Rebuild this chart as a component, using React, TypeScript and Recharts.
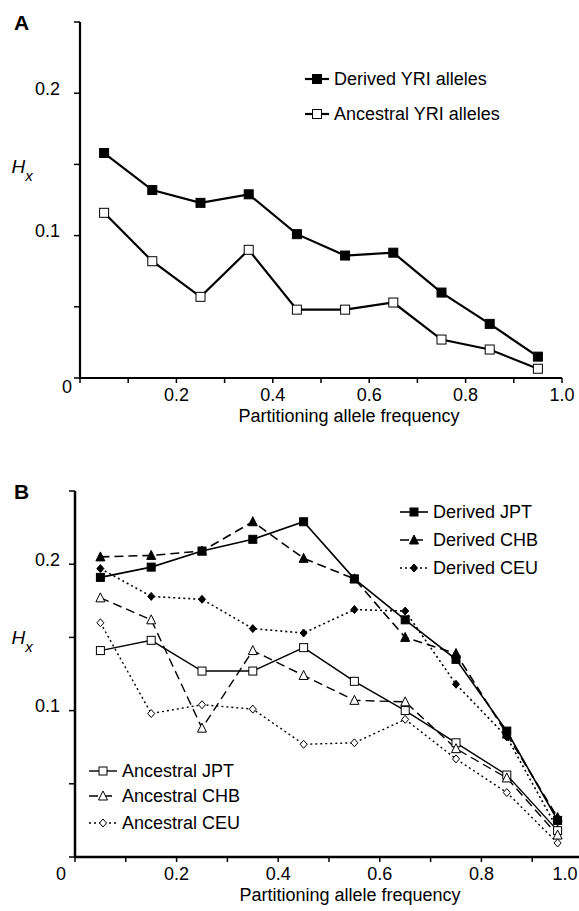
import React from "react";
import { LineChart, Line, XAxis, YAxis, Legend, Label } from "recharts";

// partitioning allele frequency bins (bin centres)
const freqBins = [0.05, 0.15, 0.25, 0.35, 0.45, 0.55, 0.65, 0.75, 0.85, 0.95];

// panel A
const derivedYRI = [0.158, 0.132, 0.123, 0.129, 0.101, 0.086, 0.088, 0.06, 0.038, 0.015];
const ancestralYRI = [0.116, 0.082, 0.057, 0.09, 0.048, 0.048, 0.053, 0.027, 0.02, 0.0065];

// panel B
const derivedJPT = [0.191, 0.198, 0.209, 0.217, 0.229, 0.19, 0.162, 0.135, 0.086, 0.025];
const derivedCHB = [0.205, 0.206, 0.209, 0.229, 0.204, 0.19, 0.15, 0.139, 0.084, 0.027];
const derivedCEU = [0.197, 0.178, 0.176, 0.156, 0.153, 0.169, 0.168, 0.118, 0.082, 0.019];
const ancestralJPT = [0.141, 0.148, 0.127, 0.127, 0.143, 0.12, 0.1, 0.078, 0.056, 0.018];
const ancestralCHB = [0.177, 0.162, 0.088, 0.141, 0.124, 0.107, 0.106, 0.074, 0.054, 0.015];
const ancestralCEU = [0.16, 0.098, 0.104, 0.101, 0.077, 0.078, 0.094, 0.067, 0.044, 0.0096];

const xTicks = [0, 0.1, 0.2, 0.3, 0.4, 0.5, 0.6, 0.7, 0.8, 0.9, 1];
const xTickLabels = ["0", "", "0.2", "", "0.4", "", "0.6", "", "0.8", "", "1.0"];
const yTicks = [0, 0.05, 0.1, 0.15, 0.2, 0.25];
const yTickLabels = ["", "", "0.1", "", "0.2", ""];

const FONT = '"Liberation Sans", Arial, sans-serif';

type Shape = "square" | "triangle" | "diamond";
interface Series {
  key: string;
  name: string;
  values: number[];
  shape: Shape;
  filled: boolean;
  size: number;
  dash?: string;
  width: number;
}

const seriesA: Series[] = [
  { key: "dYRI", name: "Derived YRI alleles", values: derivedYRI, shape: "square", filled: true, size: 9, width: 2.2 },
  { key: "aYRI", name: "Ancestral YRI alleles", values: ancestralYRI, shape: "square", filled: false, size: 9, width: 2.2 },
];

const seriesB: Series[] = [
  { key: "dJPT", name: "Derived JPT", values: derivedJPT, shape: "square", filled: true, size: 8, width: 1.6 },
  { key: "dCHB", name: "Derived CHB", values: derivedCHB, shape: "triangle", filled: true, size: 8, dash: "9 5", width: 1.6 },
  { key: "dCEU", name: "Derived CEU", values: derivedCEU, shape: "diamond", filled: true, size: 8, dash: "2 3", width: 1.6 },
  { key: "aJPT", name: "Ancestral JPT", values: ancestralJPT, shape: "square", filled: false, size: 8, width: 1.4 },
  { key: "aCHB", name: "Ancestral CHB", values: ancestralCHB, shape: "triangle", filled: false, size: 8, dash: "9 5", width: 1.4 },
  { key: "aCEU", name: "Ancestral CEU", values: ancestralCEU, shape: "diamond", filled: false, size: 8, dash: "2 3", width: 1.4 },
];

const buildRows = (series: Series[]) =>
  freqBins.map((f, i) => {
    const row: Record<string, number> = { f };
    series.forEach((s) => (row[s.key] = s.values[i]));
    return row;
  });

const Marker = ({ cx, cy, s }: { cx: number; cy: number; s: Series }) => {
  const fill = s.filled ? "#000" : "#fff";
  const h = s.size / 2;
  if (s.shape === "square")
    return <rect x={cx - h} y={cy - h} width={s.size} height={s.size} fill={fill} stroke="#000" strokeWidth={1} />;
  if (s.shape === "triangle")
    return (
      <polygon
        points={`${cx},${cy - h - 1} ${cx + h + 0.5},${cy + h} ${cx - h - 0.5},${cy + h}`}
        fill={fill}
        stroke="#000"
        strokeWidth={1}
      />
    );
  return (
    <polygon
      points={`${cx},${cy - h} ${cx + h - 0.5},${cy} ${cx},${cy + h} ${cx - h + 0.5},${cy}`}
      fill={fill}
      stroke="#000"
      strokeWidth={1}
    />
  );
};

const LegendRow = ({ s, left, cy, lineW }: { s: Series; left: number; cy: number; lineW: number }) => (
  <div style={{ position: "absolute", left, top: cy - 12, height: 24, display: "flex", alignItems: "center", whiteSpace: "nowrap" }}>
    <svg width={lineW} height={24}>
      <line x1={0} y1={12} x2={lineW} y2={12} stroke="#000" strokeWidth={s.width} strokeDasharray={s.dash} />
      <Marker cx={lineW / 2} cy={12} s={s} />
    </svg>
    <span style={{ marginLeft: 5, fontSize: 18, fontFamily: FONT, color: "#000" }}>{s.name}</span>
  </div>
);

const XTick = (props: any) => {
  const { x, y, index, zeroDx, zeroDy, lastDx } = props;
  const label = xTickLabels[index];
  if (!label) return <g />;
  const isZero = index === 0;
  const isLast = index === xTickLabels.length - 1;
  const dx = isZero ? zeroDx : isLast ? lastDx : 0;
  return (
    <text x={x + dx} y={y + 18 + (isZero ? zeroDy : 0)} textAnchor="middle" fontSize={18} fontFamily={FONT} fill="#000">
      {label}
    </text>
  );
};

const YTick = (props: any) => {
  const { x, y, index, dx } = props;
  const label = yTickLabels[index];
  if (!label) return <g />;
  return (
    <text x={x + dx} y={y + 1.5} textAnchor="end" fontSize={18} fontFamily={FONT} fill="#000">
      {label}
    </text>
  );
};

interface PanelProps {
  letter: string;
  series: Series[];
  width: number;
  height: number;
  margin: { top: number; right: number; left: number; bottom: number };
  yAxisWidth: number;
  axisStroke: number;
  yLabelDx: number;
  zeroDx: number;
  zeroDy: number;
  lastDx: number;
  hxRise: number;
  titleDx: number;
  legendRows: { left: number; cy: number; lineW: number }[];
}

const Panel = (p: PanelProps) => {
  const rows = buildRows(p.series);
  return (
    <LineChart width={p.width} height={p.height} data={rows} margin={p.margin}>
      <XAxis
        dataKey="f"
        type="number"
        domain={[0, 1]}
        ticks={xTicks}
        interval={0}
        height={30}
        stroke="#000"
        strokeWidth={p.axisStroke}
        tickSize={5}
        tickMargin={0}
        tickLine={{ stroke: "#000", strokeWidth: 1.5 }}
        tick={<XTick zeroDx={p.zeroDx} zeroDy={p.zeroDy} lastDx={p.lastDx} />}
      >
        <Label
          content={({ viewBox }: any) => (
            <text
              x={viewBox.x + viewBox.width / 2 + p.titleDx}
              y={viewBox.y + 44}
              textAnchor="middle"
              fontSize={18}
              fontFamily={FONT}
              fill="#000"
            >
              Partitioning allele frequency
            </text>
          )}
        />
      </XAxis>
      <YAxis
        type="number"
        domain={[0, 0.25]}
        ticks={yTicks}
        interval={0}
        width={p.yAxisWidth}
        stroke="#000"
        strokeWidth={p.axisStroke}
        tickSize={6}
        tickMargin={0}
        tickLine={{ stroke: "#000", strokeWidth: 1.5 }}
        tick={<YTick dx={p.yLabelDx} />}
      >
        <Label
          content={({ viewBox }: any) => (
            <g>
              <text x={14} y={viewBox.y + 8} fontSize={21} fontWeight="bold" fontFamily={FONT} fill="#000">
                {p.letter}
              </text>
              <text
                x={11.5}
                y={viewBox.y + viewBox.height / 2 - p.hxRise}
                fontSize={19}
                fontStyle="italic"
                fontFamily={FONT}
                fill="#000"
              >
                H
                <tspan fontSize={15} dy={8}>
                  x
                </tspan>
              </text>
            </g>
          )}
        />
      </YAxis>
      <Legend
        layout="horizontal"
        verticalAlign="middle"
        align="center"
        wrapperStyle={{ position: "absolute", left: 0, top: 0, width: p.width, height: p.height, pointerEvents: "none" }}
        content={() => (
          <div style={{ position: "relative", width: p.width, height: p.height }}>
            {p.series.map((s, i) => (
              <LegendRow key={s.key} s={s} {...p.legendRows[i]} />
            ))}
          </div>
        )}
      />
      {p.series.map((s) => (
        <Line
          key={s.key}
          dataKey={s.key}
          name={s.name}
          type="linear"
          stroke="#000"
          strokeWidth={s.width}
          strokeDasharray={s.dash}
          isAnimationActive={false}
          activeDot={false}
          dot={(d: any) => <Marker key={`${s.key}-${d.index}`} cx={d.cx} cy={d.cy} s={s} />}
        />
      ))}
    </LineChart>
  );
};

export default function App() {
  return (
    <div style={{ position: "absolute", left: 0, top: 0, width: 579, height: 911, overflow: "hidden", background: "#fff" }}>
      <div style={{ position: "absolute", left: 0, top: 0 }}>
        <Panel
          letter="A"
          series={seriesA}
          width={579}
          height={440}
          margin={{ top: 22, right: 17, left: 0, bottom: 32 }}
          yAxisWidth={80}
          axisStroke={2.2}
          yLabelDx={-14}
          zeroDx={-13}
          zeroDy={-8}
          lastDx={0}
          hxRise={27}
          titleDx={28}
          legendRows={[
            { left: 305, cy: 79, lineW: 24 },
            { left: 305, cy: 114, lineW: 24 },
          ]}
        />
      </div>
      <div style={{ position: "absolute", left: 0, top: 460 }}>
        <Panel
          letter="B"
          series={seriesB}
          width={600}
          height={451}
          margin={{ top: 31, right: 17, left: 0, bottom: 24 }}
          yAxisWidth={75}
          axisStroke={2.5}
          yLabelDx={-9}
          zeroDx={-14}
          zeroDy={0}
          lastDx={-18}
          hxRise={30}
          titleDx={21}
          legendRows={[
            { left: 400, cy: 52, lineW: 28 },
            { left: 400, cy: 80, lineW: 28 },
            { left: 400, cy: 108, lineW: 28 },
            { left: 89, cy: 311, lineW: 28 },
            { left: 89, cy: 336, lineW: 28 },
            { left: 89, cy: 363, lineW: 28 },
          ]}
        />
      </div>
    </div>
  );
}
